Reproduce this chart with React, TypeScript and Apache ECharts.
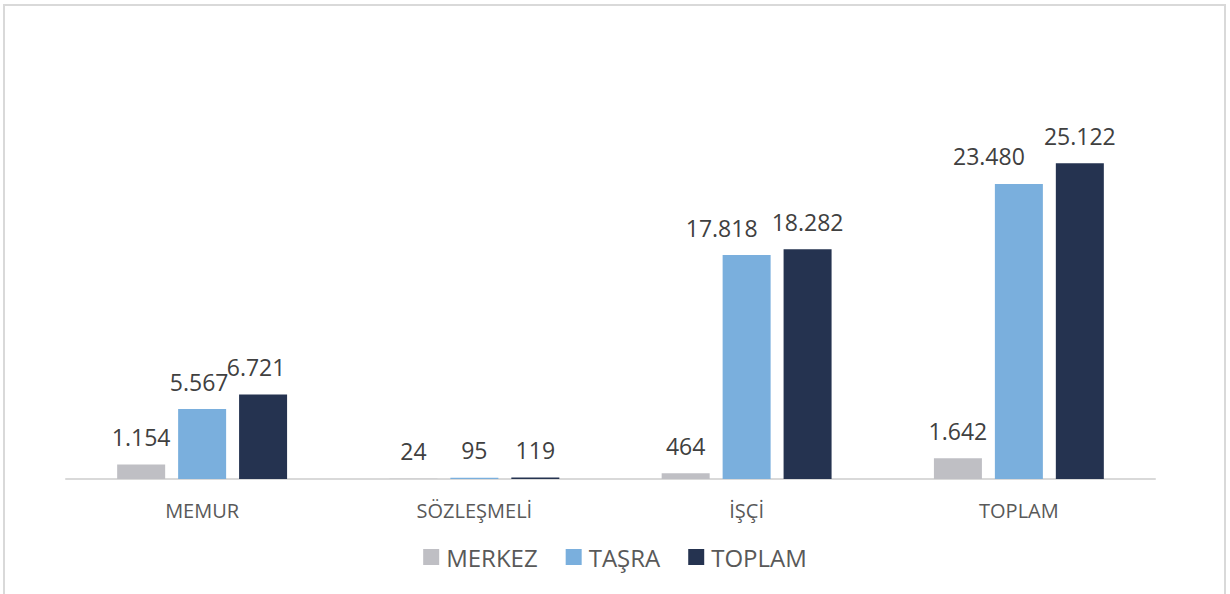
import React, { useEffect, useRef } from "react";
import * as echarts from "echarts";

const categories = ["MEMUR", "SÖZLEŞMELİ", "İŞÇİ", "TOPLAM"];
const merkez = [1154, 24, 464, 1642];
const tasra = [5567, 95, 17818, 23480];
const toplam = [6721, 119, 18282, 25122];
const seriesNames = ["MERKEZ", "TAŞRA", "TOPLAM"];
const colors = ["#bfbfc4", "#7aafdd", "#253350"];
// horizontal nudges of individual data labels (to avoid overlaps, as in the source)
const tasraLabelShift = [-3, 0, -25, -30];
const toplamLabelShift = [-7, 0, 0, 0];

const fmt = (v: number) => String(v).replace(/\B(?=(\d{3})+(?!\d))/g, ".");

export default function App() {
  const ref = useRef<HTMLDivElement>(null);
  useEffect(() => {
    if (!ref.current) return;
    const chart = echarts.init(ref.current, undefined, { renderer: "svg" });
    const font = "'Open Sans', 'Noto Sans', sans-serif";
    const mk = (name: string, data: number[], color: string, shifts?: number[]) => ({
      name,
      type: "bar",
      data: data.map((v, i) =>
        shifts && shifts[i] ? { value: v, label: { offset: [shifts[i], 0] } } : v
      ),
      barWidth: 48,
      barGap: "27%",
      itemStyle: { color },
      label: {
        show: true,
        position: "top",
        distance: 16,
        color: "#404040",
        fontSize: 23,
        fontFamily: font,
        formatter: (p: any) => fmt(p.value),
      },
    });
    chart.setOption({
      animation: false,
      textStyle: { fontFamily: font },
      graphic: [
        {
          type: "rect",
          shape: { x: 4, y: 5, width: 1221, height: 600 },
          style: { fill: "none", stroke: "#d9d9d9", lineWidth: 2 },
          silent: true,
        },
      ],
      legend: {
        data: seriesNames,
        bottom: 20,
        left: "center",
        itemWidth: 16,
        itemHeight: 16,
        itemGap: 28,
        icon: "rect",
        textStyle: { color: "#595959", fontSize: 24, fontFamily: font, padding: [0, 0, 0, 2] },
      },
      grid: { left: 66, right: 75, top: 102, bottom: 115 },
      xAxis: {
        type: "category",
        data: categories,
        axisLine: { lineStyle: { color: "#d9d9d9", width: 2 } },
        axisTick: { show: false },
        axisLabel: { color: "#595959", fontSize: 20, margin: 21, fontFamily: font },
      },
      yAxis: {
        type: "value",
        min: 0,
        max: 30000,
        show: false,
        splitLine: { show: false },
      },
      series: [
        mk(seriesNames[0], merkez, colors[0]),
        mk(seriesNames[1], tasra, colors[1], tasraLabelShift),
        mk(seriesNames[2], toplam, colors[2], toplamLabelShift),
      ],
    });
    return () => chart.dispose();
  }, []);
  return (
    <div
      ref={ref}
      style={{ position: "fixed", left: 0, top: 0, width: 1230, height: 594, background: "#fff" }}
    />
  );
}
